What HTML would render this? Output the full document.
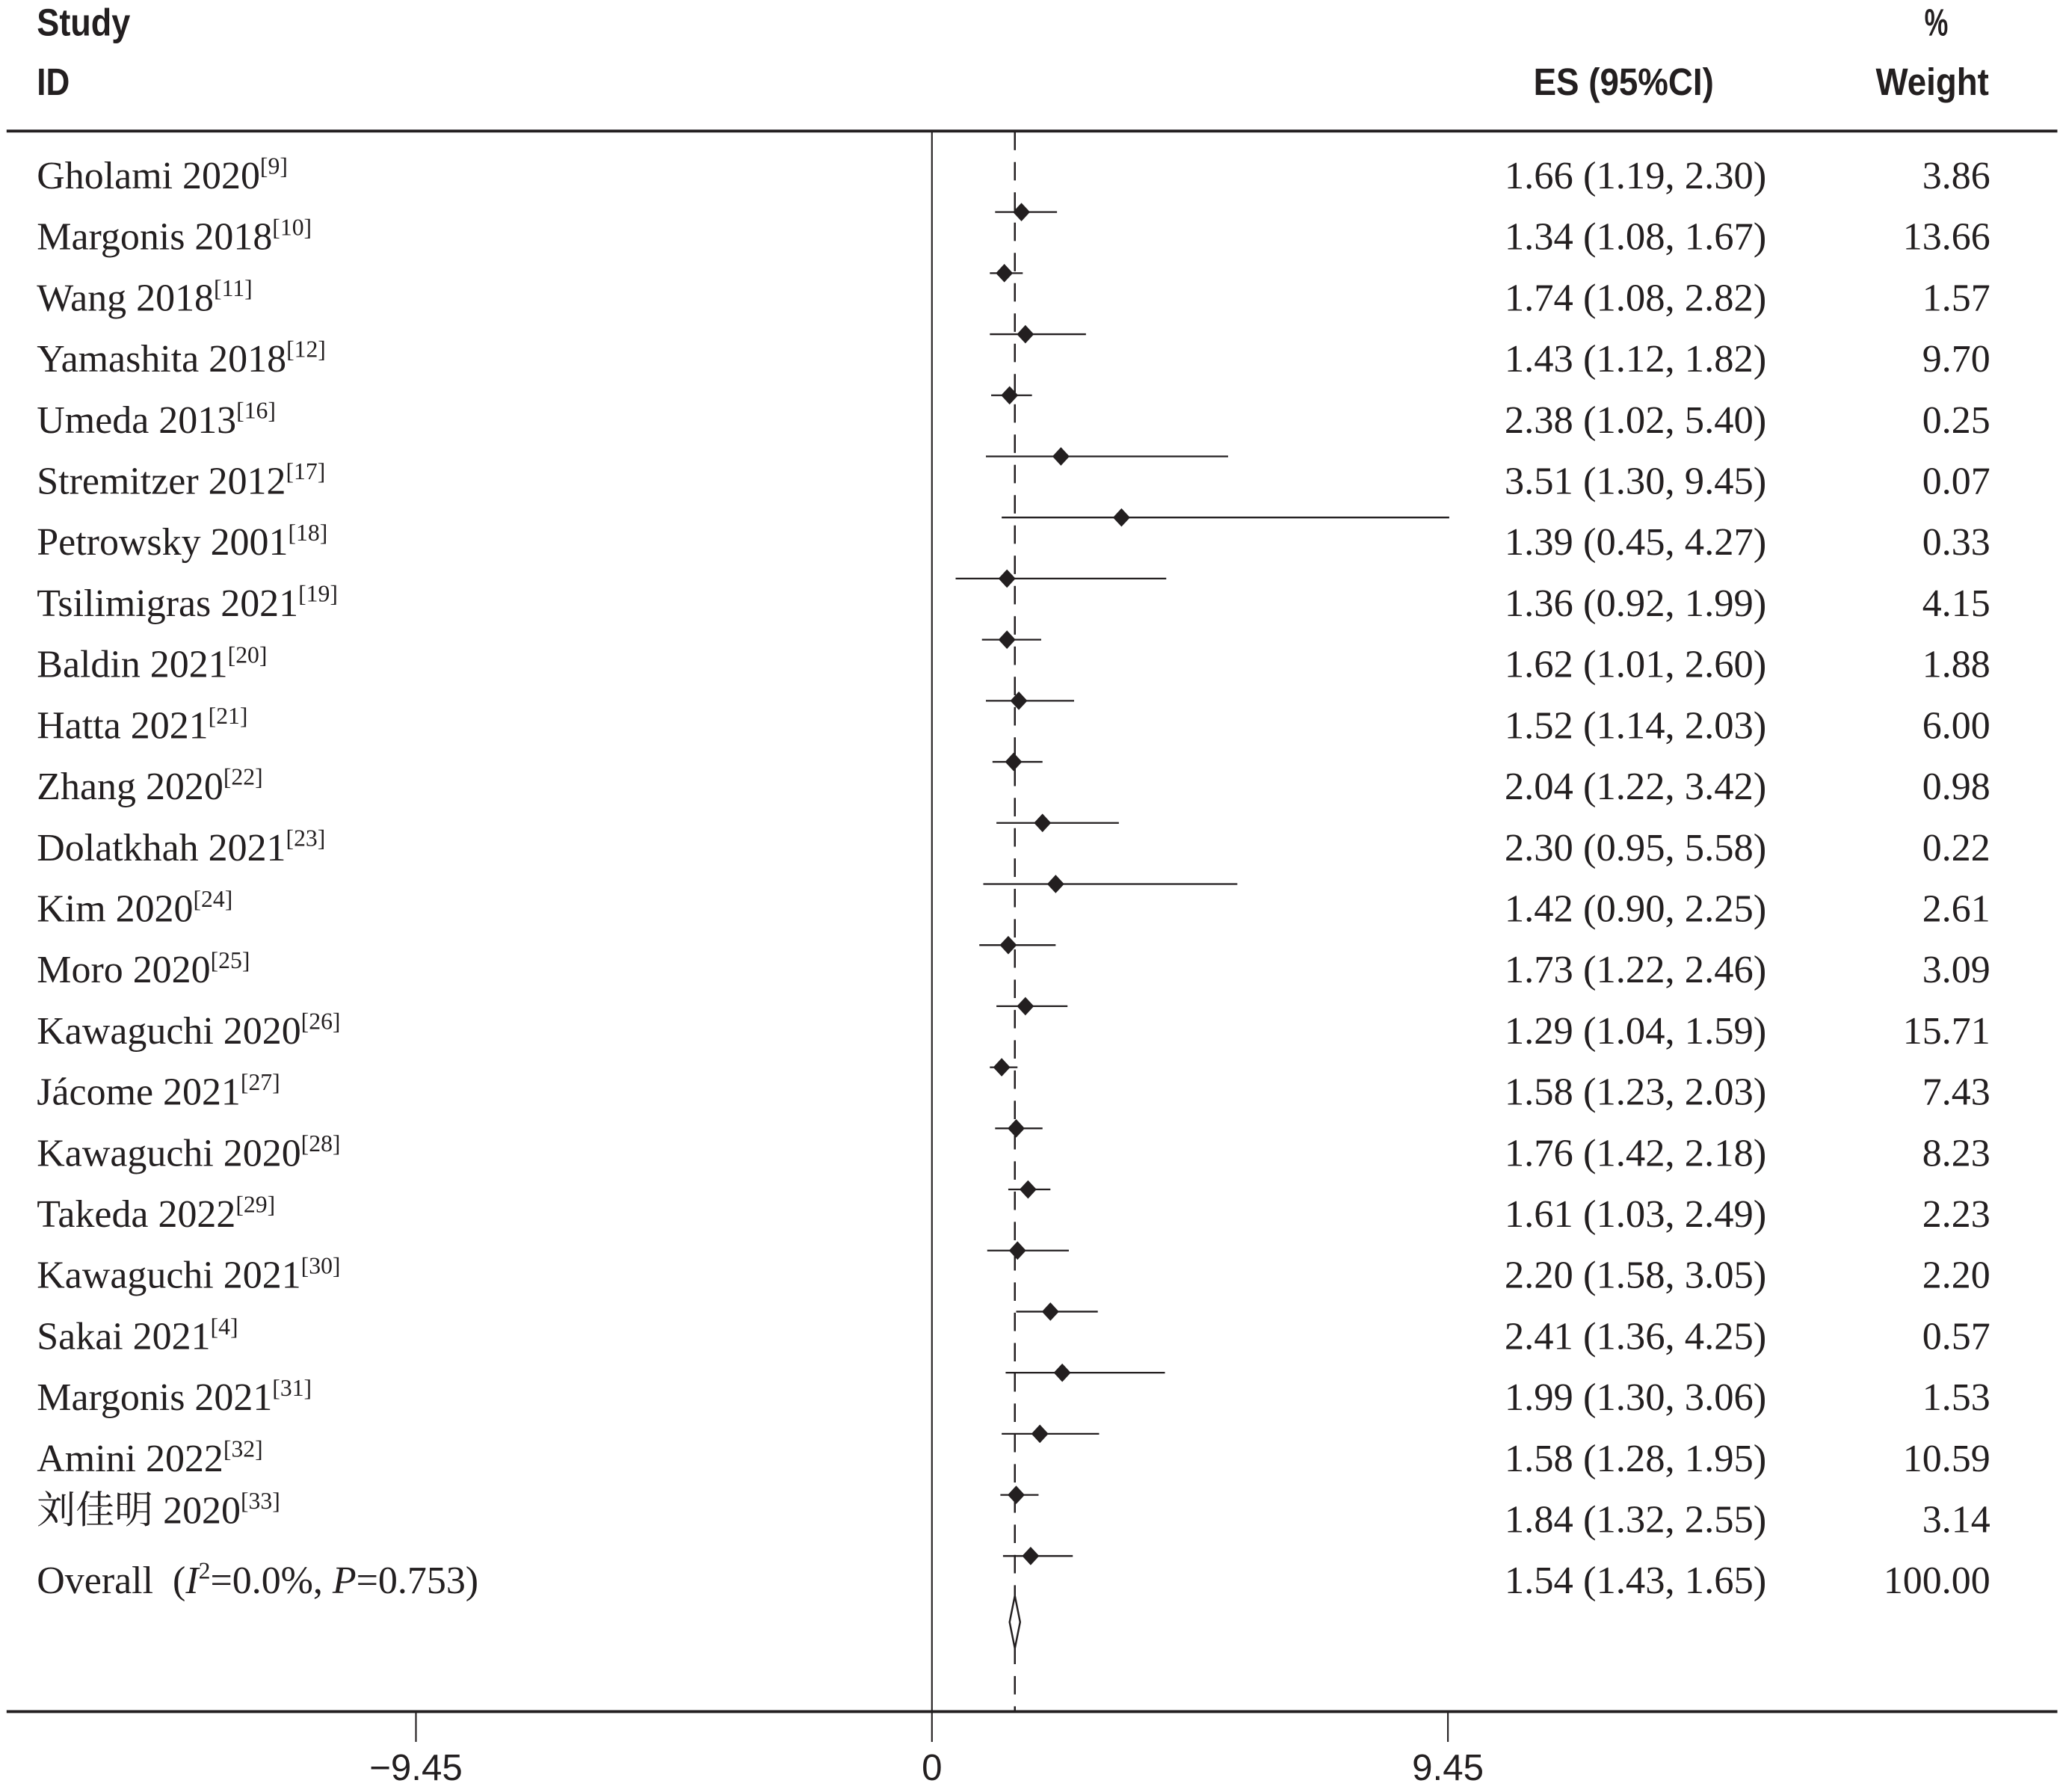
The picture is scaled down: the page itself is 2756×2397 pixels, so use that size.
<!DOCTYPE html>
<html><head><meta charset="utf-8"><style>
html,body{margin:0;padding:0;background:#fff}
svg{display:block}
.s{font-family:"Liberation Serif","Noto Serif CJK SC",serif;font-size:29.5px;fill:#231f20}
.h{font-family:"Liberation Sans",sans-serif;font-weight:bold;font-size:29px;fill:#231f20}
.t{font-family:"Liberation Sans",sans-serif;font-size:28px;fill:#231f20}
.sup{font-size:18px}
</style></head><body>
<svg width="2756" height="2397" viewBox="0 0 1565 1361" xmlns="http://www.w3.org/2000/svg">
<rect width="1565" height="1361" fill="#fff"/>
<text class="h" x="28" y="27" textLength="71" lengthAdjust="spacingAndGlyphs">Study</text>
<text class="h" x="28" y="72" textLength="25" lengthAdjust="spacingAndGlyphs">ID</text>
<text class="h" x="1462" y="27" textLength="18" lengthAdjust="spacingAndGlyphs">%</text>
<text class="h" x="1165" y="72" textLength="137" lengthAdjust="spacingAndGlyphs">ES (95%CI)</text>
<text class="h" x="1425" y="72" textLength="86" lengthAdjust="spacingAndGlyphs">Weight</text>
<line x1="5" y1="99.5" x2="1563" y2="99.5" stroke="#231f20" stroke-width="2.2"/>
<line x1="5" y1="1300" x2="1563" y2="1300" stroke="#231f20" stroke-width="2.2"/>
<line x1="708" y1="100" x2="708" y2="1323" stroke="#231f20" stroke-width="1.2"/>
<line x1="316" y1="1300" x2="316" y2="1323" stroke="#231f20" stroke-width="1.2"/>
<line x1="1100" y1="1300" x2="1100" y2="1323" stroke="#231f20" stroke-width="1.2"/>
<line x1="771" y1="100" x2="771" y2="1300" stroke="#231f20" stroke-width="1.4" stroke-dasharray="14 9"/>
<text class="t" x="316" y="1352" text-anchor="middle">−9.45</text>
<text class="t" x="708" y="1352" text-anchor="middle">0</text>
<text class="t" x="1100" y="1352" text-anchor="middle">9.45</text>
<g stroke="#231f20" stroke-width="1.3" fill="#231f20">
<line x1="756" y1="161" x2="803" y2="161"/><path d="M776 154 l6.5 7 -6.5 7 -6.5 -7z" stroke="none"/>
<line x1="752" y1="207.4" x2="777" y2="207.4"/><path d="M763 200.4 l6.5 7 -6.5 7 -6.5 -7z" stroke="none"/>
<line x1="752" y1="253.8" x2="825" y2="253.8"/><path d="M779 246.8 l6.5 7 -6.5 7 -6.5 -7z" stroke="none"/>
<line x1="753" y1="300.2" x2="784" y2="300.2"/><path d="M767 293.2 l6.5 7 -6.5 7 -6.5 -7z" stroke="none"/>
<line x1="749" y1="346.6" x2="933" y2="346.6"/><path d="M806 339.6 l6.5 7 -6.5 7 -6.5 -7z" stroke="none"/>
<line x1="761" y1="393" x2="1101" y2="393"/><path d="M852 386 l6.5 7 -6.5 7 -6.5 -7z" stroke="none"/>
<line x1="726" y1="439.4" x2="886" y2="439.4"/><path d="M765 432.4 l6.5 7 -6.5 7 -6.5 -7z" stroke="none"/>
<line x1="746" y1="485.8" x2="791" y2="485.8"/><path d="M765 478.8 l6.5 7 -6.5 7 -6.5 -7z" stroke="none"/>
<line x1="749" y1="532.2" x2="816" y2="532.2"/><path d="M774 525.2 l6.5 7 -6.5 7 -6.5 -7z" stroke="none"/>
<line x1="754" y1="578.6" x2="792" y2="578.6"/><path d="M770 571.6 l6.5 7 -6.5 7 -6.5 -7z" stroke="none"/>
<line x1="757" y1="625" x2="850" y2="625"/><path d="M792 618 l6.5 7 -6.5 7 -6.5 -7z" stroke="none"/>
<line x1="747" y1="671.4" x2="940" y2="671.4"/><path d="M802 664.4 l6.5 7 -6.5 7 -6.5 -7z" stroke="none"/>
<line x1="744" y1="717.8" x2="802" y2="717.8"/><path d="M766 710.8 l6.5 7 -6.5 7 -6.5 -7z" stroke="none"/>
<line x1="757" y1="764.2" x2="811" y2="764.2"/><path d="M779 757.2 l6.5 7 -6.5 7 -6.5 -7z" stroke="none"/>
<line x1="752" y1="810.6" x2="773" y2="810.6"/><path d="M761 803.6 l6.5 7 -6.5 7 -6.5 -7z" stroke="none"/>
<line x1="756" y1="857" x2="792" y2="857"/><path d="M772 850 l6.5 7 -6.5 7 -6.5 -7z" stroke="none"/>
<line x1="766" y1="903.4" x2="798" y2="903.4"/><path d="M781 896.4 l6.5 7 -6.5 7 -6.5 -7z" stroke="none"/>
<line x1="750" y1="949.8" x2="812" y2="949.8"/><path d="M773 942.8 l6.5 7 -6.5 7 -6.5 -7z" stroke="none"/>
<line x1="772" y1="996.2" x2="834" y2="996.2"/><path d="M798 989.2 l6.5 7 -6.5 7 -6.5 -7z" stroke="none"/>
<line x1="764" y1="1042.6" x2="885" y2="1042.6"/><path d="M807 1035.6 l6.5 7 -6.5 7 -6.5 -7z" stroke="none"/>
<line x1="761" y1="1089" x2="835" y2="1089"/><path d="M790 1082 l6.5 7 -6.5 7 -6.5 -7z" stroke="none"/>
<line x1="760" y1="1135.4" x2="789" y2="1135.4"/><path d="M772 1128.4 l6.5 7 -6.5 7 -6.5 -7z" stroke="none"/>
<line x1="762" y1="1181.8" x2="815" y2="1181.8"/><path d="M783 1174.8 l6.5 7 -6.5 7 -6.5 -7z" stroke="none"/>
</g>
<path d="M771 1212 L775 1232 L771 1252 L767 1232 Z" fill="#fff" stroke="#231f20" stroke-width="1.4"/>
<g class="s">
<text x="28" y="143">Gholami 2020<tspan class="sup" dy="-11">[9]</tspan></text>
<text x="28" y="189.4">Margonis 2018<tspan class="sup" dy="-11">[10]</tspan></text>
<text x="28" y="235.8">Wang 2018<tspan class="sup" dy="-11">[11]</tspan></text>
<text x="28" y="282.2">Yamashita 2018<tspan class="sup" dy="-11">[12]</tspan></text>
<text x="28" y="328.6">Umeda 2013<tspan class="sup" dy="-11">[16]</tspan></text>
<text x="28" y="375">Stremitzer 2012<tspan class="sup" dy="-11">[17]</tspan></text>
<text x="28" y="421.4">Petrowsky 2001<tspan class="sup" dy="-11">[18]</tspan></text>
<text x="28" y="467.8">Tsilimigras 2021<tspan class="sup" dy="-11">[19]</tspan></text>
<text x="28" y="514.2">Baldin 2021<tspan class="sup" dy="-11">[20]</tspan></text>
<text x="28" y="560.6">Hatta 2021<tspan class="sup" dy="-11">[21]</tspan></text>
<text x="28" y="607">Zhang 2020<tspan class="sup" dy="-11">[22]</tspan></text>
<text x="28" y="653.4">Dolatkhah 2021<tspan class="sup" dy="-11">[23]</tspan></text>
<text x="28" y="699.8">Kim 2020<tspan class="sup" dy="-11">[24]</tspan></text>
<text x="28" y="746.2">Moro 2020<tspan class="sup" dy="-11">[25]</tspan></text>
<text x="28" y="792.6">Kawaguchi 2020<tspan class="sup" dy="-11">[26]</tspan></text>
<text x="28" y="839">Jácome 2021<tspan class="sup" dy="-11">[27]</tspan></text>
<text x="28" y="885.4">Kawaguchi 2020<tspan class="sup" dy="-11">[28]</tspan></text>
<text x="28" y="931.8">Takeda 2022<tspan class="sup" dy="-11">[29]</tspan></text>
<text x="28" y="978.2">Kawaguchi 2021<tspan class="sup" dy="-11">[30]</tspan></text>
<text x="28" y="1024.6">Sakai 2021<tspan class="sup" dy="-11">[4]</tspan></text>
<text x="28" y="1071">Margonis 2021<tspan class="sup" dy="-11">[31]</tspan></text>
<text x="28" y="1117.4">Amini 2022<tspan class="sup" dy="-11">[32]</tspan></text>
<text x="28" y="1157">刘佳明 2020<tspan class="sup" dy="-11">[33]</tspan></text>
<text x="28" y="1210" xml:space="preserve">Overall  (<tspan font-style="italic">I</tspan><tspan class="sup" dy="-11">2</tspan><tspan dy="11">=0.0%, </tspan><tspan font-style="italic">P</tspan>=0.753)</text>
</g>
<g class="s">
<text x="1143" y="143" textLength="199" lengthAdjust="spacingAndGlyphs">1.66 (1.19, 2.30)</text>
<text x="1143" y="189.4" textLength="199" lengthAdjust="spacingAndGlyphs">1.34 (1.08, 1.67)</text>
<text x="1143" y="235.8" textLength="199" lengthAdjust="spacingAndGlyphs">1.74 (1.08, 2.82)</text>
<text x="1143" y="282.2" textLength="199" lengthAdjust="spacingAndGlyphs">1.43 (1.12, 1.82)</text>
<text x="1143" y="328.6" textLength="199" lengthAdjust="spacingAndGlyphs">2.38 (1.02, 5.40)</text>
<text x="1143" y="375" textLength="199" lengthAdjust="spacingAndGlyphs">3.51 (1.30, 9.45)</text>
<text x="1143" y="421.4" textLength="199" lengthAdjust="spacingAndGlyphs">1.39 (0.45, 4.27)</text>
<text x="1143" y="467.8" textLength="199" lengthAdjust="spacingAndGlyphs">1.36 (0.92, 1.99)</text>
<text x="1143" y="514.2" textLength="199" lengthAdjust="spacingAndGlyphs">1.62 (1.01, 2.60)</text>
<text x="1143" y="560.6" textLength="199" lengthAdjust="spacingAndGlyphs">1.52 (1.14, 2.03)</text>
<text x="1143" y="607" textLength="199" lengthAdjust="spacingAndGlyphs">2.04 (1.22, 3.42)</text>
<text x="1143" y="653.4" textLength="199" lengthAdjust="spacingAndGlyphs">2.30 (0.95, 5.58)</text>
<text x="1143" y="699.8" textLength="199" lengthAdjust="spacingAndGlyphs">1.42 (0.90, 2.25)</text>
<text x="1143" y="746.2" textLength="199" lengthAdjust="spacingAndGlyphs">1.73 (1.22, 2.46)</text>
<text x="1143" y="792.6" textLength="199" lengthAdjust="spacingAndGlyphs">1.29 (1.04, 1.59)</text>
<text x="1143" y="839" textLength="199" lengthAdjust="spacingAndGlyphs">1.58 (1.23, 2.03)</text>
<text x="1143" y="885.4" textLength="199" lengthAdjust="spacingAndGlyphs">1.76 (1.42, 2.18)</text>
<text x="1143" y="931.8" textLength="199" lengthAdjust="spacingAndGlyphs">1.61 (1.03, 2.49)</text>
<text x="1143" y="978.2" textLength="199" lengthAdjust="spacingAndGlyphs">2.20 (1.58, 3.05)</text>
<text x="1143" y="1024.6" textLength="199" lengthAdjust="spacingAndGlyphs">2.41 (1.36, 4.25)</text>
<text x="1143" y="1071" textLength="199" lengthAdjust="spacingAndGlyphs">1.99 (1.30, 3.06)</text>
<text x="1143" y="1117.4" textLength="199" lengthAdjust="spacingAndGlyphs">1.58 (1.28, 1.95)</text>
<text x="1143" y="1163.8" textLength="199" lengthAdjust="spacingAndGlyphs">1.84 (1.32, 2.55)</text>
<text x="1143" y="1210" textLength="199" lengthAdjust="spacingAndGlyphs">1.54 (1.43, 1.65)</text>
</g>
<g class="s" text-anchor="end">
<text x="1512" y="143">3.86</text>
<text x="1512" y="189.4">13.66</text>
<text x="1512" y="235.8">1.57</text>
<text x="1512" y="282.2">9.70</text>
<text x="1512" y="328.6">0.25</text>
<text x="1512" y="375">0.07</text>
<text x="1512" y="421.4">0.33</text>
<text x="1512" y="467.8">4.15</text>
<text x="1512" y="514.2">1.88</text>
<text x="1512" y="560.6">6.00</text>
<text x="1512" y="607">0.98</text>
<text x="1512" y="653.4">0.22</text>
<text x="1512" y="699.8">2.61</text>
<text x="1512" y="746.2">3.09</text>
<text x="1512" y="792.6">15.71</text>
<text x="1512" y="839">7.43</text>
<text x="1512" y="885.4">8.23</text>
<text x="1512" y="931.8">2.23</text>
<text x="1512" y="978.2">2.20</text>
<text x="1512" y="1024.6">0.57</text>
<text x="1512" y="1071">1.53</text>
<text x="1512" y="1117.4">10.59</text>
<text x="1512" y="1163.8">3.14</text>
<text x="1512" y="1210">100.00</text>
</g>
</svg>
</body></html>
